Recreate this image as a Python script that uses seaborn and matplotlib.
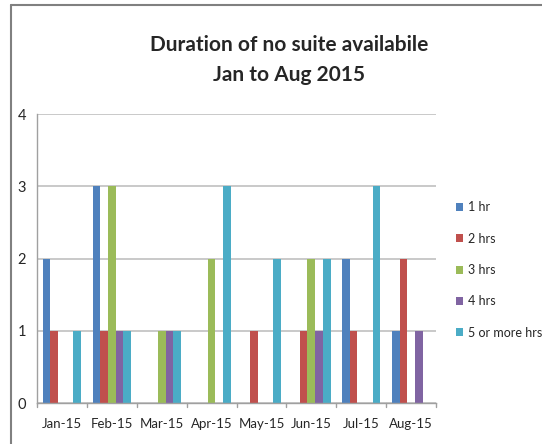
import matplotlib
matplotlib.use("Agg")
import matplotlib.pyplot as plt
import pandas as pd
import seaborn as sns

months = ["Jan-15", "Feb-15", "Mar-15", "Apr-15", "May-15", "Jun-15", "Jul-15", "Aug-15"]
series = ["1 hr", "2 hrs", "3 hrs", "4 hrs", "5 or more hrs"]
hr1 = [2, 3, 0, 0, 0, 0, 2, 1]
hr2 = [1, 1, 0, 0, 1, 1, 1, 2]
hr3 = [0, 3, 1, 2, 0, 2, 0, 0]
hr4 = [0, 1, 1, 0, 0, 1, 0, 1]
hr5 = [1, 1, 1, 3, 2, 2, 3, 0]
colors = ["#4F81BD", "#C0504D", "#9BBB59", "#8064A2", "#4BACC6"]

rows = []
for name, vals in zip(series, [hr1, hr2, hr3, hr4, hr5]):
    for m, v in zip(months, vals):
        rows.append({"month": m, "duration": name, "count": v})
df = pd.DataFrame(rows)

sns.set_style("white")
plt.rcParams["font.family"] = ["Lato", "DejaVu Sans"]

fig = plt.figure(figsize=(5.42, 4.44), dpi=100)
ax = fig.add_axes([37 / 542, 41 / 444, 399 / 542, 289 / 444])

sns.barplot(data=df, x="month", y="count", hue="duration", order=months,
            hue_order=series, palette=colors, width=0.77, saturation=1,
            edgecolor="none", ax=ax, legend=True)

ax.set_ylim(0, 4)
ax.set_yticks([0, 1, 2, 3, 4])
ax.set_xlim(-0.5, len(months) - 0.5)
ax.yaxis.grid(True, color="#C0C0C0", linewidth=1.2)
ax.set_axisbelow(True)
ax.set_xlabel("")
ax.set_ylabel("")
for s in ["top", "right"]:
    ax.spines[s].set_visible(False)
for s in ["left", "bottom"]:
    ax.spines[s].set_color("#A0A0A0")
    ax.spines[s].set_linewidth(1)
ax.tick_params(axis="y", length=4, color="#A0A0A0", labelsize=10.5, pad=4)
ax.tick_params(axis="x", length=0, labelsize=9.5, pad=11)
# category separators on the x axis
for i in range(len(months) + 1):
    ax.plot([i - 0.5, i - 0.5], [0, -0.06], color="#A0A0A0", lw=1, clip_on=False)

leg = ax.legend(loc="center left", bbox_to_anchor=(1.05, 0.46), frameon=False,
                borderaxespad=0, borderpad=0,
                fontsize=9, handlelength=0.6, handleheight=0.6, handletextpad=0.35,
                labelspacing=1.55)

fig.text(0.533, 1 - 60 / 444, "Duration of no suite availabile\nJan to Aug 2015",
         ha="center", va="center", fontsize=15, fontweight="bold", linespacing=1.65)

# partial frame like the original chart area
fig.add_artist(plt.Line2D([11 / 542, 11 / 542], [0, 1 - 5 / 444], color="#808080", lw=1.5))
fig.add_artist(plt.Line2D([11 / 542, 1], [1 - 5 / 444, 1 - 5 / 444], color="#808080", lw=1.5))

fig.savefig("out.png", dpi=100)
